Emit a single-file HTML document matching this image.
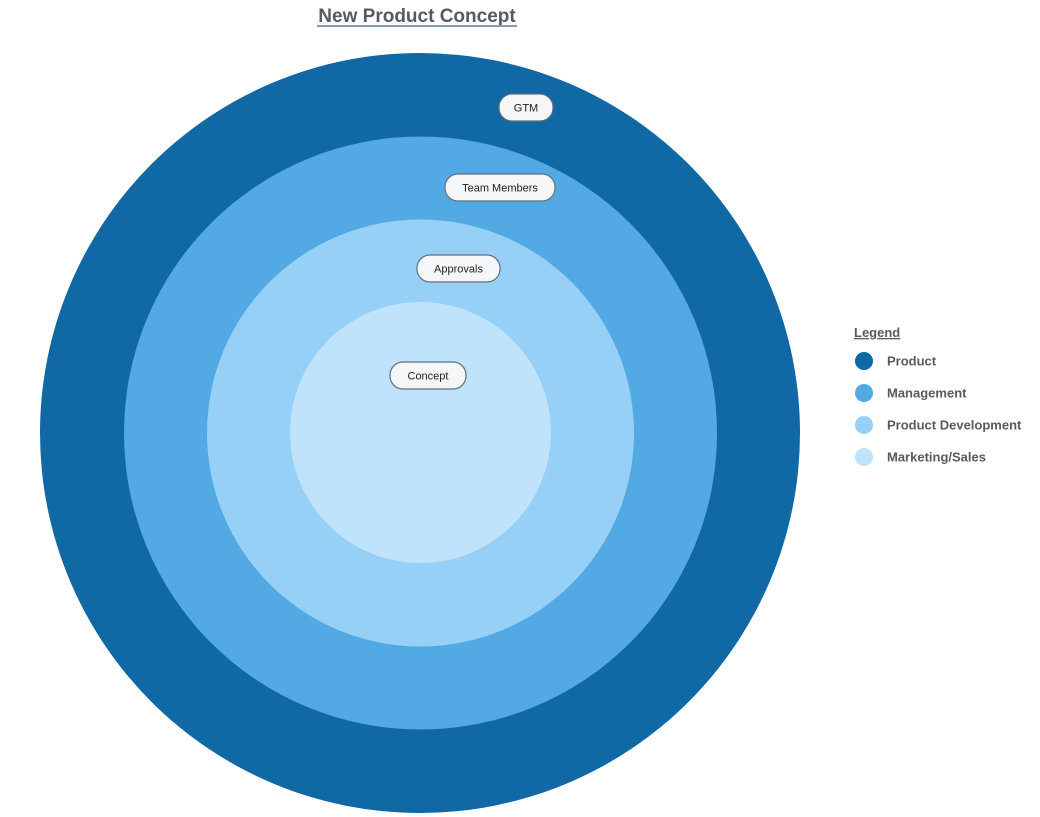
<!DOCTYPE html>
<html><head><meta charset="utf-8"><style>html,body{margin:0;padding:0;background:#fff}svg{display:block}</style></head>
<body>
<svg width="1040" height="817" viewBox="0 0 1040 817" xmlns="http://www.w3.org/2000/svg" font-family="Liberation Sans, sans-serif">
<text x="417" y="22" text-anchor="middle" font-size="19" font-weight="bold" fill="#575a60">New Product Concept</text>
<line x1="317" y1="26" x2="517" y2="26" stroke="#8a9cab" stroke-width="2"/>
<circle cx="420" cy="433" r="380" fill="#1068A5"/>
<circle cx="420.5" cy="433" r="296.5" fill="#52A9E3"/>
<circle cx="420.5" cy="433" r="213.5" fill="#96D0F7"/>
<circle cx="420.5" cy="432.5" r="130.5" fill="#BEE3FA"/>
<g stroke="#5f6f80" stroke-width="1.2" fill="#f5f6f8">
<rect x="499" y="94" width="54" height="27" rx="13"/>
<rect x="445" y="174" width="110" height="27" rx="13"/>
<rect x="417" y="255" width="83" height="27" rx="13"/>
<rect x="390" y="362" width="76" height="27" rx="13"/>
</g>
<g font-size="11" fill="#222" text-anchor="middle">
<text x="526" y="111.5">GTM</text>
<text x="500" y="191.5">Team Members</text>
<text x="458.5" y="272.5">Approvals</text>
<text x="428" y="379.5">Concept</text>
</g>
<text x="854" y="337" font-size="13" font-weight="bold" fill="#575a60" text-decoration="underline">Legend</text>
<circle cx="864" cy="361" r="9" fill="#1068A5"/>
<circle cx="864" cy="393" r="9" fill="#52A9E3"/>
<circle cx="864" cy="425" r="9" fill="#96D0F7"/>
<circle cx="864" cy="457" r="9" fill="#BEE3FA"/>
<g font-size="13" font-weight="bold" fill="#575a60">
<text x="887" y="365.5">Product</text>
<text x="887" y="397.5">Management</text>
<text x="887" y="429.5">Product Development</text>
<text x="887" y="461.5">Marketing/Sales</text>
</g>
</svg>
</body></html>
